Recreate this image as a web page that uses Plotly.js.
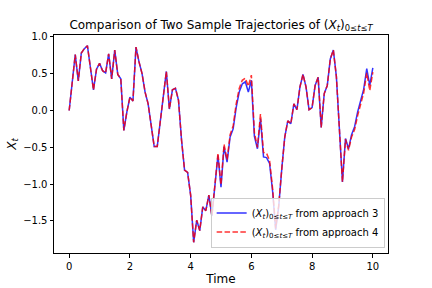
<!DOCTYPE html>
<html>
<head>
<meta charset="utf-8">
<script src="https://cdn.plot.ly/plotly-3.0.1.min.js"></script>
<style>html,body{margin:0;padding:0;background:#fff;}#chart{width:432px;height:288px;}</style>
</head>
<body>
<div id="chart"></div>
<script>
// time grid (dt = 0.1)
var time = [0.0,0.1,0.2,0.3,0.4,0.5,0.6,0.7,0.8,0.9,
            1.0,1.1,1.2,1.3,1.4,1.5,1.6,1.7,1.8,1.9,
            2.0,2.1,2.2,2.3,2.4,2.5,2.6,2.7,2.8,2.9,
            3.0,3.1,3.2,3.3,3.4,3.5,3.6,3.7,3.8,3.9,
            4.0,4.1,4.2,4.3,4.4,4.5,4.6,4.7,4.8,4.9,
            5.0,5.1,5.2,5.3,5.4,5.5,5.6,5.7,5.8,5.9,
            6.0,6.1,6.2,6.3,6.4,6.5,6.6,6.7,6.8,6.9,
            7.0,7.1,7.2,7.3,7.4,7.5,7.6,7.7,7.8,7.9,
            8.0,8.1,8.2,8.3,8.4,8.5,8.6,8.7,8.8,8.9,
            9.0,9.1,9.2,9.3,9.4,9.5,9.6,9.7,9.8,9.9,10.0];

// approach 3 (blue, solid)
var approach3 = [0.00,0.37,0.76,0.40,0.78,0.84,0.88,0.58,0.28,0.56,
                 0.64,0.54,0.51,0.77,0.43,0.82,0.49,0.43,-0.27,-0.02,
                 0.18,0.13,0.86,0.66,0.50,0.25,0.09,-0.20,-0.49,-0.49,
                 -0.15,0.15,0.53,0.02,0.28,0.30,0.14,-0.40,-0.81,-0.84,
                 -1.15,-1.79,-1.49,-1.63,-1.31,-1.36,-1.15,-1.43,-1.04,-0.61,
                 -1.04,-0.49,-0.70,-0.36,-0.25,0.04,0.25,0.36,0.39,0.25,
                 0.41,-0.35,-0.52,-0.11,-0.63,-0.64,-0.72,-1.10,-1.62,-1.31,
                 -0.80,-0.36,-0.14,-0.18,0.09,0.01,0.32,0.49,0.32,0.01,
                 0.04,0.34,0.45,-0.23,0.23,0.34,0.70,0.82,0.46,-0.20,
                 -0.97,-0.38,-0.52,-0.33,-0.22,-0.02,0.14,0.29,0.57,0.34,0.58];

// approach 4 (red, dashed)
var approach4 = [0.00,0.37,0.76,0.40,0.78,0.84,0.88,0.58,0.28,0.56,
                 0.64,0.54,0.51,0.77,0.43,0.82,0.49,0.43,-0.27,-0.02,
                 0.18,0.13,0.86,0.66,0.50,0.25,0.09,-0.20,-0.49,-0.49,
                 -0.15,0.15,0.53,0.02,0.28,0.30,0.14,-0.40,-0.81,-0.84,
                 -1.15,-1.79,-1.49,-1.63,-1.31,-1.36,-1.15,-1.43,-1.02,-0.58,
                 -1.01,-0.46,-0.67,-0.33,-0.21,0.09,0.30,0.41,0.44,0.33,
                 0.48,-0.30,-0.50,-0.05,-0.57,-0.58,-0.68,-1.06,-1.60,-1.29,
                 -0.80,-0.36,-0.14,-0.18,0.09,0.01,0.32,0.49,0.32,0.01,
                 0.04,0.34,0.45,-0.23,0.23,0.34,0.70,0.82,0.46,-0.20,
                 -0.97,-0.39,-0.54,-0.36,-0.26,-0.07,0.09,0.24,0.51,0.27,0.52];

var xTicks = [0,2,4,6,8,10];
var yTicks = [-1.5,-1.0,-0.5,0.0,0.5,1.0];

var traces = [
  {x: time, y: approach3, type: 'scatter', mode: 'lines',
   name: '(<i>X</i><sub><i>t</i></sub>)<sub>0\u2264<i>t</i>\u2264<i>T</i></sub> from approach 3',
   line: {color: 'rgba(0,0,255,0.8)', width: 1.5}},
  {x: time, y: approach4, type: 'scatter', mode: 'lines',
   name: '(<i>X</i><sub><i>t</i></sub>)<sub>0\u2264<i>t</i>\u2264<i>T</i></sub> from approach 4',
   line: {color: 'rgba(255,0,0,0.8)', width: 1.5, dash: '5.5px,2.4px'}}
];

var axisCommon = {
  showgrid: false, zeroline: false,
  showline: true, mirror: true, linecolor: '#000', linewidth: 1,
  ticks: 'outside', ticklen: 3.5, tickwidth: 1, tickcolor: '#000',
  tickfont: {family: 'DejaVu Sans', size: 10, color: '#000'}
};

var layout = {
  width: 432, height: 288,
  margin: {l: 54, r: 44, t: 35, b: 35},
  paper_bgcolor: '#fff', plot_bgcolor: '#fff',
  font: {family: 'DejaVu Sans', color: '#000'},
  title: {
    text: 'Comparison of Two Sample Trajectories of (<i>X</i><sub><i>t</i></sub>)<sub>0\u2264<i>t</i>\u2264<i>T</i></sub>',
    font: {family: 'DejaVu Sans', size: 12, color: '#000'},
    x: 0.5, xref: 'paper', xanchor: 'center',
    y: 0.9, yref: 'container', yanchor: 'bottom'
  },
  xaxis: Object.assign({}, axisCommon, {
    range: [-0.5, 10.5], tickvals: xTicks, ticktext: xTicks.map(String),
    title: {text: 'Time', font: {family: 'DejaVu Sans', size: 12, color: '#000'}, standoff: 4}
  }),
  yaxis: Object.assign({}, axisCommon, {
    range: [-1.935, 1.025], tickvals: yTicks, tickformat: '.1f',
    title: {text: '<i>X</i><sub><i>t</i></sub>', font: {family: 'DejaVu Sans', size: 12, color: '#000'}, standoff: 4}
  }),
  showlegend: true,
  legend: {
    x: 0.99, y: 0.025, xanchor: 'right', yanchor: 'bottom',
    bgcolor: 'rgba(255,255,255,0.8)', bordercolor: '#cccccc', borderwidth: 1,
    font: {family: 'DejaVu Sans', size: 10, color: '#000'},
    tracegroupgap: 0
  }
};

Plotly.newPlot('chart', traces, layout, {staticPlot: true, displayModeBar: false});
</script>
</body>
</html>
